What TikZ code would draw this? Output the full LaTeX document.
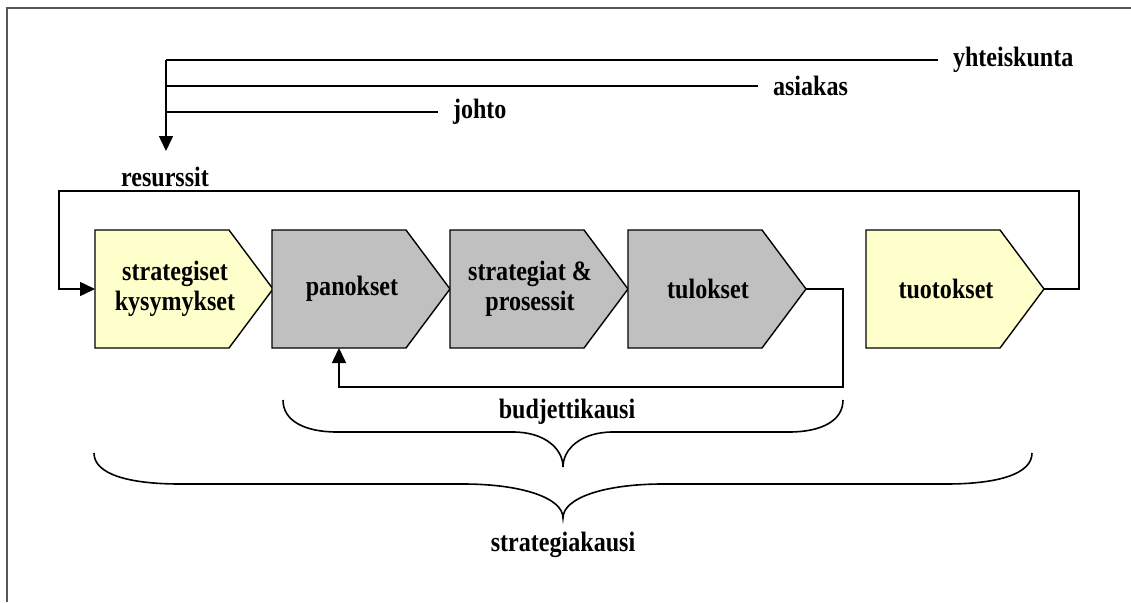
\documentclass[tikz,border=0pt]{standalone}
\usepackage{fontspec}
\setmainfont{Liberation Serif}[FakeStretch=0.86]
\usetikzlibrary{arrows.meta}

\definecolor{paleyellow}{HTML}{FFFFCC}
\definecolor{boxgray}{HTML}{C0C0C0}
\definecolor{framegray}{HTML}{585858}

\tikzset{
  line/.style={line width=1.6pt, line join=miter},
  arrowline/.style={line, -{Triangle[length=15pt,width=14pt]}},
  chev/.style={line width=1.4pt, draw=black},
  boxtext/.style={font=\bfseries\fontsize{28}{30}\selectfont, align=center, inner sep=0pt},
  lbl/.style={font=\bfseries\fontsize{28}{30}\selectfont, inner sep=0pt},
  sidelbl/.style={lbl, anchor=west, outer xsep=15pt},
  brace/.style={line width=1.6pt},
}

% pentagon-shaped step: body 134 wide, point 44 deep, 118 high
\newcommand{\chevronstep}[4]{%
  \path[chev, fill=#3] (#2,230) -- ++(134,0) -- ++(44,59) -- ++(-44,59) -- ++(-134,0) -- cycle;
  \node[boxtext] (#1) at (#2+80,289) {#4};
  \coordinate (#1-in) at (#2,289);
  \coordinate (#1-tip) at (#2+178,289);
}

\begin{document}
\begin{tikzpicture}[x=1pt, y=-1pt]
\useasboundingbox (0,0) rectangle (1131,602);

% outer frame
\draw[framegray, line width=2pt] (7,602) -- (7,8) -- (1131,8);

% process steps
\chevronstep{kys}{95}{paleyellow}{strategiset\\kysymykset}
\chevronstep{pan}{272}{boxgray}{panokset}
\chevronstep{pro}{450}{boxgray}{strategiat \&\\prosessit}
\chevronstep{tul}{628}{boxgray}{tulokset}
\chevronstep{tuo}{866}{paleyellow}{tuotokset}
\coordinate (pan-bottom) at (339,348);

% stakeholders feeding the resources
\coordinate (feed) at (166,60);
\coordinate (feeddown) at (166,151);
\node[sidelbl] (yht) at (938,60) {yhteiskunta};
\node[sidelbl] (asi) at (758,86) {asiakas};
\node[sidelbl] (joh) at (438,112) {johto};
\draw[line] (feed) -- (yht.west);
\draw[line] (feed |- asi.west) -- (asi.west);
\draw[line] (feed |- joh.west) -- (joh.west);
\draw[arrowline] (feed) -- (feeddown);
\node[lbl] (res) at (165,177) {resurssit};

% resource loop from outputs back to strategic questions
\coordinate (rr) at (1079,191);
\coordinate (rl) at (59,191);
\draw[arrowline] (tuo-tip) -| (rr) -- (rl) |- (kys-in);

% budget loop from results back to inputs
\coordinate (br) at (843,387);
\draw[arrowline] (tul-tip) -| (br) -| (pan-bottom);

% budget period brace
\draw[brace] (283,400) .. controls (283,421) and (305,432) .. (337,432)
  -- (513,432) .. controls (545,432) and (563,449) .. (563,467)
  .. controls (563,449) and (581,432) .. (613,432)
  -- (789,432) .. controls (821,432) and (843,421) .. (843,400);
\node[lbl] (bud) at (567,412) {budjettikausi};

% strategy period brace
\draw[brace] (94,453) .. controls (94,474) and (128,484) .. (180,484)
  -- (463,484) .. controls (522,484) and (563,498) .. (563,518)
  .. controls (563,498) and (604,484) .. (663,484)
  -- (946,484) .. controls (998,484) and (1032,474) .. (1032,453);
\node[lbl] (str) at (563,545) {strategiakausi};

\end{tikzpicture}
\end{document}
